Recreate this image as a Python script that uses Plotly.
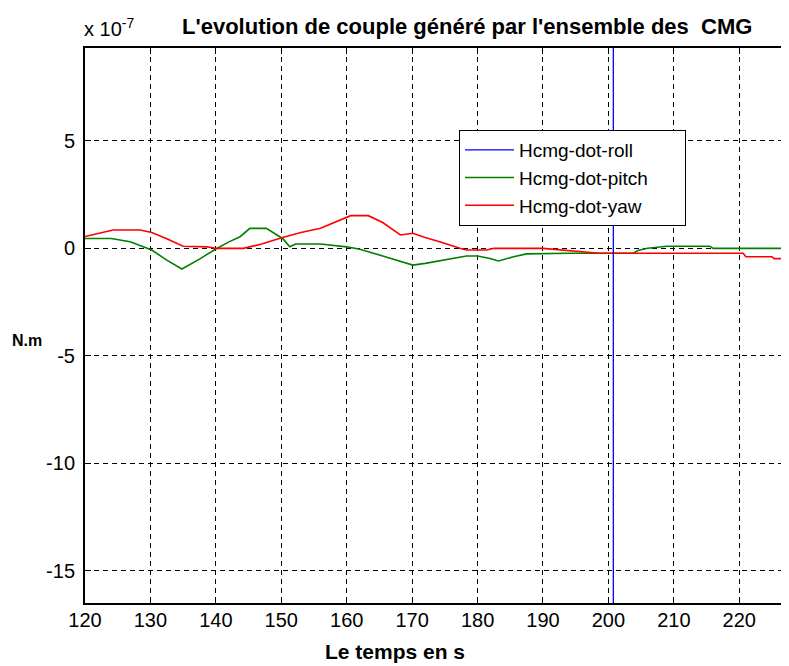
import plotly.graph_objects as go

# Time axis (s) and torque values (units of 1e-7 N.m)
yaw_t = [120, 122, 124.3, 128.4, 130.2, 132.5, 135, 138.6, 140, 144.2, 147, 150.2, 153, 156,
         160, 160.6, 163.3, 165.5, 168.2, 170.1, 172, 174.2, 177.3, 178.3, 181.4, 182.5,
         190, 194.2, 198.6, 220.6, 221, 225, 225.3, 228.7]
yaw_v = [0.55, 0.7, 0.85, 0.85, 0.74, 0.45, 0.1, 0.07, 0.0, 0.0, 0.2, 0.5, 0.74, 0.93,
         1.44, 1.52, 1.52, 1.2, 0.62, 0.7, 0.5, 0.31, 0.0, -0.08, -0.08, 0.0,
         0.0, -0.1, -0.23, -0.23, -0.39, -0.39, -0.48, -0.48]

pitch_t = [120, 124, 126.9, 130.2, 132.5, 134.8, 137.5, 140, 142, 143.7, 145.2, 147.7,
           150.2, 151.3, 152.2, 156, 160, 162, 166, 170.1, 172, 174.7, 178.3, 180,
           181.9, 183.2, 185.5, 187.5, 194, 203.8, 204.5, 206, 208.9, 215.5, 216, 228.7]
pitch_v = [0.46, 0.46, 0.31, -0.08, -0.55, -0.96, -0.5, -0.03, 0.3, 0.54, 0.93, 0.93,
           0.46, 0.07, 0.2, 0.2, 0.07, -0.04, -0.4, -0.78, -0.7, -0.54, -0.36, -0.36,
           -0.47, -0.59, -0.39, -0.26, -0.23, -0.23, -0.1, 0.0, 0.1, 0.1, 0.0, 0.0]

roll_t = [200.75, 200.75]
roll_v = [-60, 60]

x_ticks = [120, 130, 140, 150, 160, 170, 180, 190, 200, 210, 220]
y_ticks = [-15, -10, -5, 0, 5]

FONT = "Liberation Sans, Arial, sans-serif"
PAD = "\u00a0" * 6

fig = go.Figure()
fig.add_trace(go.Scatter(x=pitch_t, y=pitch_v, mode="lines", name="Hcmg-dot-pitch" + PAD,
                         line=dict(color="#008000", width=1.6), legendrank=2))
fig.add_trace(go.Scatter(x=yaw_t, y=yaw_v, mode="lines", name="Hcmg-dot-yaw" + PAD,
                         line=dict(color="#FF0000", width=1.6), legendrank=3))
fig.add_trace(go.Scatter(x=roll_t, y=roll_v, mode="lines", name="Hcmg-dot-roll" + PAD,
                         line=dict(color="#0000FF", width=1.3), legendrank=1))

# page is offset by the 8px body margin; plot box on the page: x 85..789, y 48..603
W, H = 781, 658
L, R, T, B = 77, 0, 40, 63
PL, PR, PT, PB = 85, 789, 48, 603

def px(xp):
    return (xp - PL) / (PR - PL)

def py(yp):
    return (PB - yp) / (PB - PT)

fig.update_layout(
    width=W, height=H,
    margin=dict(l=L, r=R, t=T, b=B),
    paper_bgcolor="white", plot_bgcolor="white",
    font=dict(family=FONT, color="black", size=20),
    showlegend=True,
    legend=dict(x=px(459), y=py(130), xanchor="left", yanchor="top",
                bordercolor="black", borderwidth=1, bgcolor="white",
                font=dict(family=FONT, size=19, color="black"),
                itemwidth=49,
                traceorder="normal", tracegroupgap=0),
    xaxis=dict(range=[120, 227.6], tickvals=x_ticks, ticktext=[str(v) for v in x_ticks],
               showgrid=True, gridcolor="black", gridwidth=1, griddash="5px,4px",
               zeroline=False, showline=True, linecolor="black", linewidth=2,
               mirror="ticks", ticks="inside", ticklen=6, tickcolor="black",
               tickfont=dict(family=FONT, size=20, color="black"),
               ticklabelstandoff=-2),
    yaxis=dict(range=[-16.5, 9.32], tickvals=y_ticks, ticktext=[str(v) for v in y_ticks],
               showgrid=True, gridcolor="black", gridwidth=1, griddash="5px,4px",
               zeroline=False, showline=True, linecolor="black", linewidth=2,
               ticks="inside", ticklen=6, tickcolor="black",
               tickfont=dict(family=FONT, size=20, color="black"),
               ticklabelstandoff=4),
    annotations=[
        dict(text="<b>L'evolution de couple généré par l'ensemble des  CMG</b>",
             xref="paper", yref="paper", x=px(467), y=py(27), xanchor="center",
             yanchor="middle", showarrow=False, font=dict(family=FONT, size=22)),
        dict(text="x 10<sup>-7</sup>", xref="paper", yref="paper", x=px(82), y=py(28),
             xanchor="left", yanchor="middle", showarrow=False,
             font=dict(family=FONT, size=20)),
        dict(text="<b>Le temps en s</b>", xref="paper", yref="paper", x=px(395), y=py(651),
             xanchor="center", yanchor="middle", showarrow=False,
             font=dict(family=FONT, size=21)),
        dict(text="<b>N.m</b>", xref="paper", yref="paper", x=px(27), y=py(340),
             xanchor="center", yanchor="middle", showarrow=False,
             font=dict(family=FONT, size=16)),
    ],
)

fig.write_html("out.html")
